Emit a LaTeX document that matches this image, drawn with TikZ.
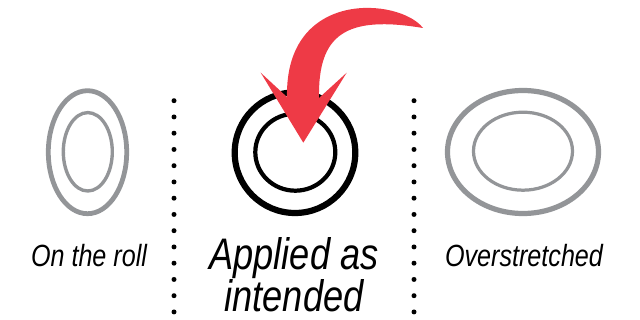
\documentclass[tikz,border=0pt]{standalone}
\usepackage{fontspec}
\newfontfamily\condfont[FakeStretch=0.82]{Liberation Sans}
\definecolor{ringgray}{HTML}{939598}
\definecolor{arrowred}{HTML}{EE3A46}
\begin{document}
\begin{tikzpicture}[x=0.025cm,y=-0.025cm,
  grayring/.style={draw=ringgray},
  blackring/.style={draw=black},
  sep dot/.style={fill=black},
  label small/.style={font=\condfont\itshape\fontsize{21.8}{26}\selectfont, inner sep=0pt, anchor=base},
  label big/.style={font=\condfont\itshape\fontsize{31.4}{29.9}\selectfont, inner sep=0pt, anchor=base, align=center}]
\useasboundingbox (0,0) rectangle (640,320);
% left: on the roll
\draw[grayring, line width=3.4] (87.5,152.2) ellipse [x radius=39.2, y radius=61.5];
\draw[grayring, line width=2.4] (87.8,151.8) ellipse [x radius=24.5, y radius=39.2];
% middle: applied as intended
\draw[blackring, line width=4.4] (295,152.7) circle [radius=60.3];
\draw[blackring, line width=3] (295.3,152.2) ellipse [x radius=40, y radius=38.5];
% right: overstretched
\draw[grayring, line width=3.7] (523,152) ellipse [x radius=75.5, y radius=61.5];
\draw[grayring, line width=2.3] (523,151.2) ellipse [x radius=49.5, y radius=39];
% dotted separators
\foreach \i in {0,...,13} {
  \fill[sep dot] (174,100.7+16.25*\i) circle [radius=2.5];
  \fill[sep dot] (414,100.7+16.25*\i) circle [radius=2.5];
}
% red arrow
\fill[arrowred] (423,28) .. controls (400,-2) and (285,-12) .. (287,97)
  -- (260.7,72.7) -- (303.3,142.7) -- (346.7,72.7) -- (319,98)
  .. controls (318,35) and (345,15) .. (423,28) -- cycle;
% labels
\node[label small] (roll) at (89,267) {On the roll};
\node[label big] (applied) at (294,312) {Applied as\\intended};
\node[label small] (over) at (524,267) {Overstretched};
\end{tikzpicture}
\end{document}
